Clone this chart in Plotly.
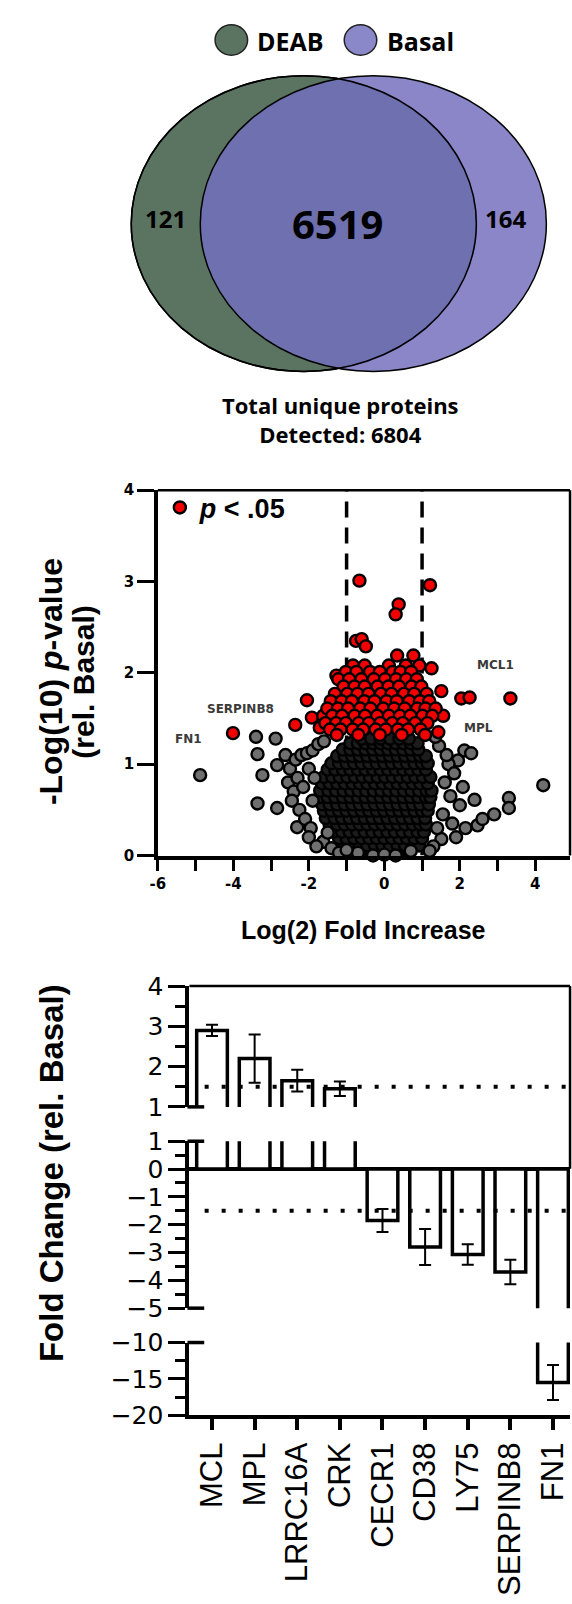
import plotly.graph_objects as go

W, H = 572, 1604

def X(p):
    return p / W

def Y(p):
    return 1 - p / H

# ---------------- Venn data ----------------
venn_names = ["DEAB", "Basal"]
only_deab = 121
shared = 6519
only_basal = 164
total_detected = 6804

# ---------------- Volcano data ----------------
# significant (p < .05) proteins: outliers
red_out_x = [-4.01, -2.05, -2.36, -1.92, -1.62, -1.71, -1.27, -0.88, -0.66, -0.75, -0.60, -0.49,
             0.38, 0.30, 0.34, 0.77, 1.21, 1.25, 1.51, 2.04, 2.26, 3.34, 1.56, 1.08, 1.43]
red_out_y = [1.34, 1.70, 1.43, 1.51, 1.53, 1.40, 1.97, 1.97, 3.01, 2.35, 2.37, 2.29,
             2.75, 2.64, 2.19, 2.19, 2.96, 2.05, 1.80, 1.72, 1.73, 1.72, 1.53, 1.51, 1.35]
# significant proteins: dense cluster (rows)
red_rows_y = [2.08, 2.01, 1.93, 1.85, 1.77, 1.69, 1.61, 1.53, 1.45, 1.38, 1.32]
red_rows_x = [
    [-0.83, -0.52, 0.12, 0.57, 0.93],
    [-1.02, -0.74, -0.38, -0.12, 0.22, 0.43, 0.71],
    [-1.22, -0.93, -0.61, -0.28, 0.02, 0.31, 0.58, 0.86],
    [-1.08, -0.79, -0.52, -0.18, 0.11, 0.39, 0.72, 0.98],
    [-1.31, -0.98, -0.71, -0.42, -0.09, 0.19, 0.52, 0.79, 1.12],
    [-1.42, -1.13, -0.86, -0.53, -0.26, 0.06, 0.33, 0.66, 0.94, 1.19],
    [-1.51, -1.23, -0.96, -0.64, -0.37, -0.03, 0.26, 0.54, 0.87, 1.09, 1.36],
    [-1.38, -1.12, -0.79, -0.51, -0.19, 0.12, 0.41, 0.69, 1.01, 1.27],
    [-1.56, -1.28, -1.02, -0.68, -0.41, -0.11, 0.21, 0.49, 0.82, 1.14],
    [-1.44, -1.16, -0.84, -0.56, -0.23, 0.04, 0.36, 0.63, 0.96],
    [-1.26, -0.69, -0.12, 0.46, 1.08],
]
# non-significant proteins: scattered halo
gray_out_x = [-4.88, -3.40, -2.88, -3.36, -3.23, -3.36, -2.84, -2.84, -2.62, -2.31, -1.62,
              -2.5, -2.35, -2.2, -2.05, -1.9, -2.55, -2.4, -2.45, -2.25, -2.3, -2.1, -1.95, -2.0,
              -1.8, -1.4, -1.2, -2.15, -2.0, -1.85, -1.9, -1.75, -1.6, -1.5,
              4.21, 3.30, 3.30, 2.91, 2.47, 2.39, 2.12, 2.30, 1.95, 1.51, 2.08, 2.0, 1.7, 1.85,
              1.6, 1.75, 1.55, 1.8, 1.4, 1.3, 2.15, 1.65, 1.45, 1.9, 2.6, 1.35, 1.2,
              -0.3, 0.0, 0.3, -0.7, 0.7, -1.0]
gray_out_y = [0.88, 1.30, 1.28, 1.11, 0.88, 0.57, 0.52, 0.99, 1.10, 0.31, 0.15,
              0.95, 1.05, 1.10, 1.12, 1.15, 0.80, 0.70, 0.60, 0.50, 0.85, 0.40, 0.30, 0.20,
              0.10, 0.08, 0.03, 0.75, 0.95, 0.85, 0.60, 1.22, 1.25, 0.25,
              0.77, 0.63, 0.52, 0.45, 0.33, 0.61, 1.15, 1.12, 1.04, 0.18, 0.75, 0.55, 1.00, 0.90,
              0.80, 0.65, 0.45, 0.35, 0.30, 0.10, 0.30, 1.10, 1.20, 0.20, 0.40, 1.30, 0.05,
              0.00, 0.01, 0.00, 0.03, 0.05, 0.06]
# non-significant proteins: dense overplotted core (rows)
core_rows_y = [0.04, 0.11, 0.19, 0.26, 0.34, 0.41, 0.49, 0.56, 0.64, 0.71, 0.79, 0.86, 0.94,
               1.01, 1.09, 1.16, 1.23, 1.28]
core_rows_x = [
    [-0.8, -0.55, -0.35, -0.1, 0.15, 0.4, 0.65],
    [-1.05, -0.85, -0.65, -0.45, -0.25, -0.05, 0.15, 0.35, 0.55, 0.75, 0.92],
    [-1.2, -1.0, -0.8, -0.6, -0.4, -0.2, 0.0, 0.2, 0.4, 0.6, 0.8, 1.0],
    [-1.35, -1.12, -0.92, -0.72, -0.52, -0.32, -0.12, 0.08, 0.28, 0.48, 0.68, 0.88, 1.05],
    [-1.45, -1.25, -1.05, -0.85, -0.65, -0.45, -0.25, -0.05, 0.15, 0.35, 0.55, 0.75, 0.95, 1.1],
    [-1.55, -1.32, -1.12, -0.92, -0.72, -0.52, -0.32, -0.12, 0.08, 0.28, 0.48, 0.68, 0.88, 1.08],
    [-1.6, -1.4, -1.2, -1.0, -0.8, -0.6, -0.4, -0.2, 0.0, 0.2, 0.4, 0.6, 0.8, 1.0, 1.15],
    [-1.65, -1.45, -1.25, -1.05, -0.85, -0.65, -0.45, -0.25, -0.05, 0.15, 0.35, 0.55, 0.75, 0.95, 1.18],
    [-1.7, -1.5, -1.3, -1.1, -0.9, -0.7, -0.5, -0.3, -0.1, 0.1, 0.3, 0.5, 0.7, 0.9, 1.1, 1.22],
    [-1.7, -1.48, -1.28, -1.08, -0.88, -0.68, -0.48, -0.28, -0.08, 0.12, 0.32, 0.52, 0.72, 0.92, 1.12, 1.25],
    [-1.65, -1.45, -1.25, -1.05, -0.85, -0.65, -0.45, -0.25, -0.05, 0.15, 0.35, 0.55, 0.75, 0.95, 1.15],
    [-1.6, -1.38, -1.18, -0.98, -0.78, -0.58, -0.38, -0.18, 0.02, 0.22, 0.42, 0.62, 0.82, 1.02, 1.22],
    [-1.5, -1.3, -1.1, -0.9, -0.7, -0.5, -0.3, -0.1, 0.1, 0.3, 0.5, 0.7, 0.9, 1.1],
    [-1.4, -1.2, -1.0, -0.8, -0.6, -0.4, -0.2, 0.0, 0.2, 0.4, 0.6, 0.8, 1.0, 1.15],
    [-1.25, -1.05, -0.85, -0.65, -0.45, -0.25, -0.05, 0.15, 0.35, 0.55, 0.75, 0.95, 1.1],
    [-1.1, -0.9, -0.7, -0.5, -0.3, -0.1, 0.1, 0.3, 0.5, 0.7, 0.9],
    [-0.9, -0.7, -0.5, -0.3, -0.1, 0.1, 0.3, 0.5, 0.7, 0.88],
    [-0.6, -0.35, -0.1, 0.15, 0.4, 0.65],
]
fold_cutoff = 1.0
volcano_labels = ["SERPINB8", "FN1", "MCL1", "MPL"]
volcano_label_x = [-3.8, -5.2, 2.95, 2.5]
volcano_label_y = [1.60, 1.28, 2.09, 1.40]

# ---------------- Bar data ----------------
categories = ["MCL", "MPL", "LRRC16A", "CRK", "CECR1", "CD38", "LY75", "SERPINB8", "FN1"]
fold_change = [2.9, 2.2, 1.65, 1.45, -1.85, -2.8, -3.07, -3.7, -15.5]
fold_err = [0.14, 0.6, 0.27, 0.18, 0.41, 0.65, 0.37, 0.44, 2.4]
fc_threshold = 1.5

# flatten rows
red_x = list(red_out_x)
red_y = list(red_out_y)
for yy, xs in zip(red_rows_y, red_rows_x):
    red_x += xs
    red_y += [yy] * len(xs)
core_x, core_y = [], []
for yy, xs in zip(core_rows_y, core_rows_x):
    core_x += xs
    core_y += [yy] * len(xs)

fig = go.Figure()

mk_line = dict(color="black", width=2.4)
# volcano: overplotted core (renders near-black like the dense original), halo, significant
fig.add_trace(go.Scatter(x=core_x, y=core_y, mode="markers", xaxis="x", yaxis="y",
                         marker=dict(size=12, color="#1c1c1c", line=mk_line),
                         showlegend=False, hoverinfo="skip", cliponaxis=False))
fig.add_trace(go.Scatter(x=gray_out_x, y=gray_out_y, mode="markers", xaxis="x", yaxis="y",
                         marker=dict(size=12, color="#6f6f6f", line=mk_line),
                         showlegend=False, hoverinfo="skip", cliponaxis=False))
fig.add_trace(go.Scatter(x=red_x, y=red_y, mode="markers", xaxis="x", yaxis="y",
                         marker=dict(size=12, color="#f20000", line=mk_line),
                         name="<b><i>p</i> &lt; .05</b>", showlegend=True, hoverinfo="skip",
                         cliponaxis=False))

# bars in three broken-axis panels
for xa, ya in [("x2", "y2"), ("x3", "y3"), ("x4", "y4")]:
    fig.add_trace(go.Bar(x=categories, y=fold_change, width=0.72, xaxis=xa, yaxis=ya,
                         marker=dict(color="white", line=dict(color="black", width=3.5)),
                         error_y=dict(type="data", array=fold_err, color="black",
                                      thickness=2, width=6),
                         showlegend=False, hoverinfo="skip"))

vol_x_dom = [X(152), X(570)]
vol_y_dom = [Y(857), Y(485)]
bar_x_dom = [X(184), X(570)]
top_dom = [Y(1113), Y(990)]
mid_dom = [Y(1318), Y(1148)]
bot_dom = [Y(1427), Y(1353)]

tickfont_bar = dict(family="DejaVu Sans", size=25, color="black")
vol_xt = [-6, -4, -2, 0, 2, 4]
vol_yt = [0, 1, 2, 3, 4]

common_y = dict(showline=True, linewidth=4, linecolor="black", ticks="outside", ticklen=17,
                tickwidth=3, tickcolor="black", showgrid=False, tickfont=tickfont_bar)

fig.update_layout(
    width=W, height=H, margin=dict(l=0, r=0, t=0, b=0),
    paper_bgcolor="white", plot_bgcolor="white",
    xaxis=dict(domain=vol_x_dom, anchor="y", range=[-6, 4.92], tickvals=vol_xt,
               ticktext=["<b>%s</b>" % v for v in vol_xt],
               ticks="outside", ticklen=12, tickwidth=3, tickcolor="black",
               showline=True, linewidth=3.5, linecolor="black", showgrid=False, zeroline=False,
               minor=dict(tickvals=[-5, -3, -1, 1, 3], ticks="outside", ticklen=12, tickwidth=3,
                          tickcolor="black"),
               tickfont=dict(family="DejaVu Sans", size=15, color="black")),
    yaxis=dict(domain=vol_y_dom, anchor="x", range=[0, 4], tickvals=vol_yt,
               ticktext=["<b>%s</b>" % v for v in vol_yt],
               ticks="outside", ticklen=17, tickwidth=3, tickcolor="black",
               showline=True, linewidth=3.5, linecolor="black", showgrid=False, zeroline=False,
               tickfont=dict(family="DejaVu Sans", size=15, color="black")),
    xaxis2=dict(domain=bar_x_dom, anchor="y2", range=[-0.53, 8.4], showticklabels=False,
                ticks="", showline=False, showgrid=False, matches="x4"),
    xaxis3=dict(domain=bar_x_dom, anchor="y3", range=[-0.53, 8.4], showticklabels=False,
                ticks="", showline=False, showgrid=False, matches="x4"),
    xaxis4=dict(domain=bar_x_dom, anchor="y4", range=[-0.53, 8.4], categoryorder="array",
                categoryarray=categories, showline=True, linewidth=4, linecolor="black",
                ticks="outside", ticklen=11, tickwidth=4, tickcolor="black", tickangle=-90,
                showgrid=False, tickfont=dict(family="Liberation Sans", size=31, color="black")),
    yaxis2=dict(domain=top_dom, anchor="x2", range=[1, 4], tickvals=[1, 2, 3, 4],
                minor=dict(tickvals=[1.5, 2.5, 3.5], ticks="outside", ticklen=10, tickwidth=3,
                           tickcolor="black"), zeroline=False, **common_y),
    yaxis3=dict(domain=mid_dom, anchor="x3", range=[-5, 1], tickvals=[1, 0, -1, -2, -3, -4, -5],
                minor=dict(tickvals=[0.5, -0.5, -1.5, -2.5, -3.5, -4.5], ticks="outside",
                           ticklen=10, tickwidth=3, tickcolor="black"),
                zeroline=True, zerolinewidth=3.5, zerolinecolor="black", **common_y),
    yaxis4=dict(domain=bot_dom, anchor="x4", range=[-20, -10], tickvals=[-10, -15, -20],
                minor=dict(tickvals=[-12.5, -17.5], ticks="outside", ticklen=10, tickwidth=3,
                           tickcolor="black"), zeroline=False, **common_y),
    legend=dict(x=X(154), y=Y(503), xanchor="left", yanchor="middle", bgcolor="rgba(0,0,0,0)",
                font=dict(family="Liberation Sans", size=27, color="black"),
                itemclick=False, itemdoubleclick=False),
)

shapes = []
# Venn diagram
deab_green = "#5b7462"
basal_fill = "rgba(115,111,189,0.84)"
shapes.append(dict(type="circle", xref="paper", yref="paper", x0=X(125), x1=X(475), y0=Y(364),
                   y1=Y(63), fillcolor=deab_green, line=dict(color="black", width=1.5)))
shapes.append(dict(type="circle", xref="paper", yref="paper", x0=X(195), x1=X(546), y0=Y(364),
                   y1=Y(63), fillcolor=basal_fill, line=dict(color="black", width=1.5)))
shapes.append(dict(type="circle", xref="paper", yref="paper", x0=X(125), x1=X(475), y0=Y(364),
                   y1=Y(63), line=dict(color="black", width=1.5)))
# Venn legend swatches
shapes.append(dict(type="circle", xref="paper", yref="paper", x0=X(210), x1=X(243), y0=Y(42),
                   y1=Y(11), fillcolor=deab_green, line=dict(color="#222", width=1.5)))
shapes.append(dict(type="circle", xref="paper", yref="paper", x0=X(341), x1=X(374), y0=Y(42),
                   y1=Y(11), fillcolor="#8b88c9", line=dict(color="#222", width=1.5)))
# volcano frame + cut-off lines
shapes.append(dict(type="line", xref="x domain", yref="y domain", x0=0, x1=1, y0=1, y1=1,
                   line=dict(color="black", width=2.5)))
shapes.append(dict(type="line", xref="x domain", yref="y domain", x0=1, x1=1, y0=0, y1=1,
                   line=dict(color="black", width=2.5)))
for c in (-fold_cutoff, fold_cutoff):
    shapes.append(dict(type="line", xref="x", yref="y", x0=c, x1=c, y0=0, y1=4, layer="below",
                       line=dict(color="black", width=3.5, dash="16px,10px")))
# bar chart frame
shapes.append(dict(type="line", xref="paper", yref="paper", x0=X(184), x1=X(570), y0=Y(990),
                   y1=Y(990), line=dict(color="black", width=2.5)))
shapes.append(dict(type="line", xref="paper", yref="paper", x0=X(570), x1=X(570), y0=Y(990),
                   y1=Y(1176), line=dict(color="black", width=2.5)))
for yy in (1113, 1148, 1318, 1353):
    shapes.append(dict(type="line", xref="paper", yref="paper", x0=X(182), x1=X(199), y0=Y(yy),
                       y1=Y(yy), line=dict(color="black", width=3.5)))
# dotted threshold lines
shapes.append(dict(type="line", xref="x2 domain", yref="y2", x0=0.04, x1=1, y0=fc_threshold,
                   y1=fc_threshold, line=dict(color="black", width=4, dash="4px,13px")))
shapes.append(dict(type="line", xref="x3 domain", yref="y3", x0=0.04, x1=1, y0=-fc_threshold,
                   y1=-fc_threshold, line=dict(color="black", width=4, dash="4px,13px")))
fig.update_layout(shapes=shapes)

ann = []
venn_font = "Open Sans"
def pa(x, y, text, size, family=venn_font, xanchor="center", angle=0, color="black"):
    ann.append(dict(x=X(x), y=Y(y), xref="paper", yref="paper", text=text, showarrow=False,
                    xanchor=xanchor, yanchor="middle", textangle=angle,
                    font=dict(family=family, size=size, color=color)))

pa(250, 27, "<b>%s</b>" % venn_names[0], 25, xanchor="left")
pa(382, 27, "<b>%s</b>" % venn_names[1], 25, xanchor="left")
pa(160, 208, "<b>%d</b>" % only_deab, 24)
pa(334, 213, "<b>%d</b>" % shared, 40)
pa(505, 208, "<b>%d</b>" % only_basal, 24)
pa(337, 413, "<b>Total unique proteins<br>Detected: %d</b>" % total_detected, 22)

pa(43, 680, "<b>-Log(10) <i>p</i>-value</b>", 32, family="Liberation Sans", angle=-90)
pa(77, 680, "<b>(rel. Basal)</b>", 30, family="Liberation Sans", angle=-90)
pa(361, 933, "<b>Log(2) Fold Increase</b>", 25, family="Liberation Sans")
pa(44, 1180, "<b>Fold Change (rel. Basal)</b>", 33, family="Liberation Sans", angle=-90)

for t, lx, ly in zip(volcano_labels, volcano_label_x, volcano_label_y):
    ann.append(dict(x=lx, y=ly, xref="x", yref="y", text="<b>%s</b>" % t, showarrow=False,
                    font=dict(family="DejaVu Sans", size=12, color="#3a3a3a")))

fig.update_layout(annotations=ann)

fig.write_html(
    "out.html",
    config={"displayModeBar": False},
    post_script=("document.documentElement.style.margin='0';"
                 "document.body.style.margin='0';document.body.style.padding='0';"
                 "document.documentElement.style.overflow='hidden';"
                 "document.body.style.overflow='hidden';"),
)
